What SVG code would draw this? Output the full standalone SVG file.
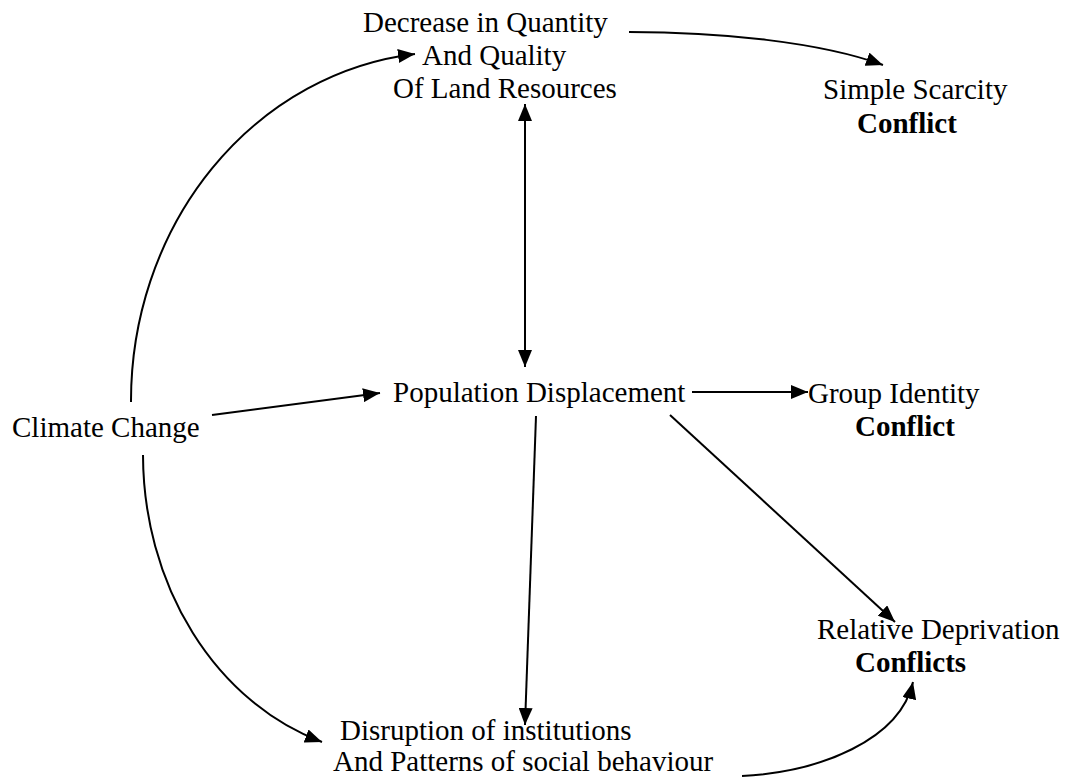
<svg xmlns="http://www.w3.org/2000/svg" width="1066" height="780" viewBox="0 0 1066 780">
<style>
  text { font-family: "Liberation Serif", "Times New Roman", serif; font-size: 29px; fill: #000; }
  .b { font-weight: bold; }
  .c { fill: none; stroke: #000; stroke-width: 2; }
</style>
<defs>
  <marker id="ah" markerUnits="userSpaceOnUse" markerWidth="17" markerHeight="14" refX="17" refY="7" orient="auto-start-reverse">
    <path d="M0,0 L17,7 L0,14 z" fill="#000"/>
  </marker>
</defs>
<rect width="1066" height="780" fill="#fff"/>
<g id="connectors">
  <path class="c" d="M131,402 A319,349 0 0 1 415,54" marker-end="url(#ah)"/>
  <path class="c" d="M143,455 A257,302 0 0 0 322,742" marker-end="url(#ah)"/>
  <path class="c" d="M212,415 L380,393" marker-end="url(#ah)"/>
  <path class="c" d="M525,104 L525,367" marker-start="url(#ah)" marker-end="url(#ah)"/>
  <path class="c" d="M692,392 L808,392" marker-end="url(#ah)"/>
  <path class="c" d="M536,416 L525,725" marker-end="url(#ah)"/>
  <path class="c" d="M670,415 L895,622" marker-end="url(#ah)"/>
  <path class="c" d="M629,32 C720,32 820,42 883,65" marker-end="url(#ah)"/>
  <path class="c" d="M742,776 C820,772 900,740 913,682" marker-end="url(#ah)"/>
</g>
<g id="climate"><text x="12" y="437">Climate Change</text></g>
<g id="land">
  <text x="363" y="32">Decrease in Quantity</text>
  <text x="422" y="65">And Quality</text>
  <text x="393" y="98">Of Land Resources</text>
</g>
<g id="scarcity">
  <text x="823" y="99">Simple Scarcity</text>
  <text class="b" x="857" y="133">Conflict</text>
</g>
<g id="population"><text x="393" y="402">Population Displacement</text></g>
<g id="group">
  <text x="808" y="403">Group Identity</text>
  <text class="b" x="855" y="436">Conflict</text>
</g>
<g id="disruption">
  <text x="340" y="740">Disruption of institutions</text>
  <text x="333" y="771">And Patterns of social behaviour</text>
</g>
<g id="relative">
  <text x="817" y="639">Relative Deprivation</text>
  <text class="b" x="855" y="672">Conflicts</text>
</g>
</svg>
